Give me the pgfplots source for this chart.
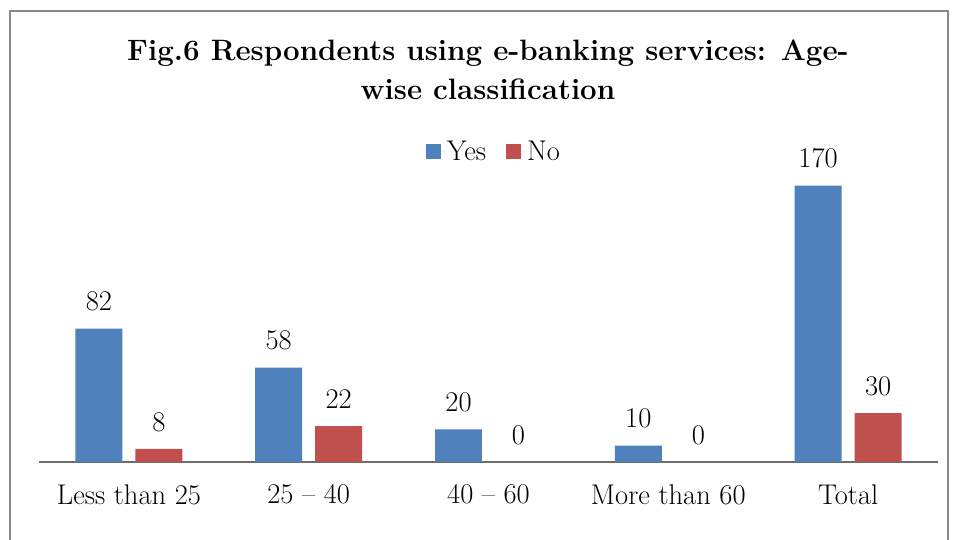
\documentclass[border=0pt]{standalone}
\usepackage{fontspec}
\usepackage{pgfplots}
\pgfplotsset{compat=1.18}
\definecolor{cyes}{HTML}{4F81BD}
\definecolor{cno}{HTML}{C0504D}
\definecolor{frame}{HTML}{888888}
\newcommand{\lab}{\fontsize{28.5bp}{32bp}\selectfont}
\begin{document}
\begin{tikzpicture}[x=1bp,y=1bp]
\useasboundingbox (0,0) rectangle (957,540);
\draw[frame, line width=1.5bp] (10,0) -- (10,529) -- (948,529) -- (948,0);
\node[align=center, font=\fontsize{29.5bp}{39bp}\selectfont\bfseries] at (488,470)
  {Fig.6 Respondents using e-banking services: Age-\\wise classification};
\begin{axis}[
  /pgf/number format/assume math mode=true,
  at={(39bp,78bp)}, anchor=south west,
  scale only axis, width=899bp, height=325bp,
  xmin=-0.5, xmax=4.5, ymin=0, ymax=200,
  axis y line=none,
  axis x line*=bottom,
  x axis line style={-, draw=gray!85!black, line width=1.3bp},
  xtick={0,1,2,3,4},
  xticklabels={Less than 25, 25 -- 40, 40 -- 60, More than 60, Total},
  major tick length=0pt,
  xticklabel style={font=\lab, yshift=-19bp},
  ybar,
  bar width=0.261,
  nodes near coords,
  every node near coord/.append style={font=\lab, text=black, yshift=14bp},
  legend style={at={(0.506,0.954)}, anchor=center, draw=none, fill=none,
    font=\lab, legend columns=2,
    /tikz/every even column/.append style={column sep=18bp}},
  legend image code/.code={\fill[#1] (0bp,-7.5bp) rectangle (15bp,7.5bp); \path (0bp,0bp) -- (19bp,0bp);},
]
\addplot[fill=cyes, draw=none, bar shift=-30bp] coordinates {(0,82) (1,58) (2,20) (3,10) (4,170)};
\addplot[fill=cno, draw=none, bar shift=30bp] coordinates {(0,8) (1,22) (2,0) (3,0) (4,30)};
\legend{Yes, No}
\end{axis}
\end{tikzpicture}
\end{document}
